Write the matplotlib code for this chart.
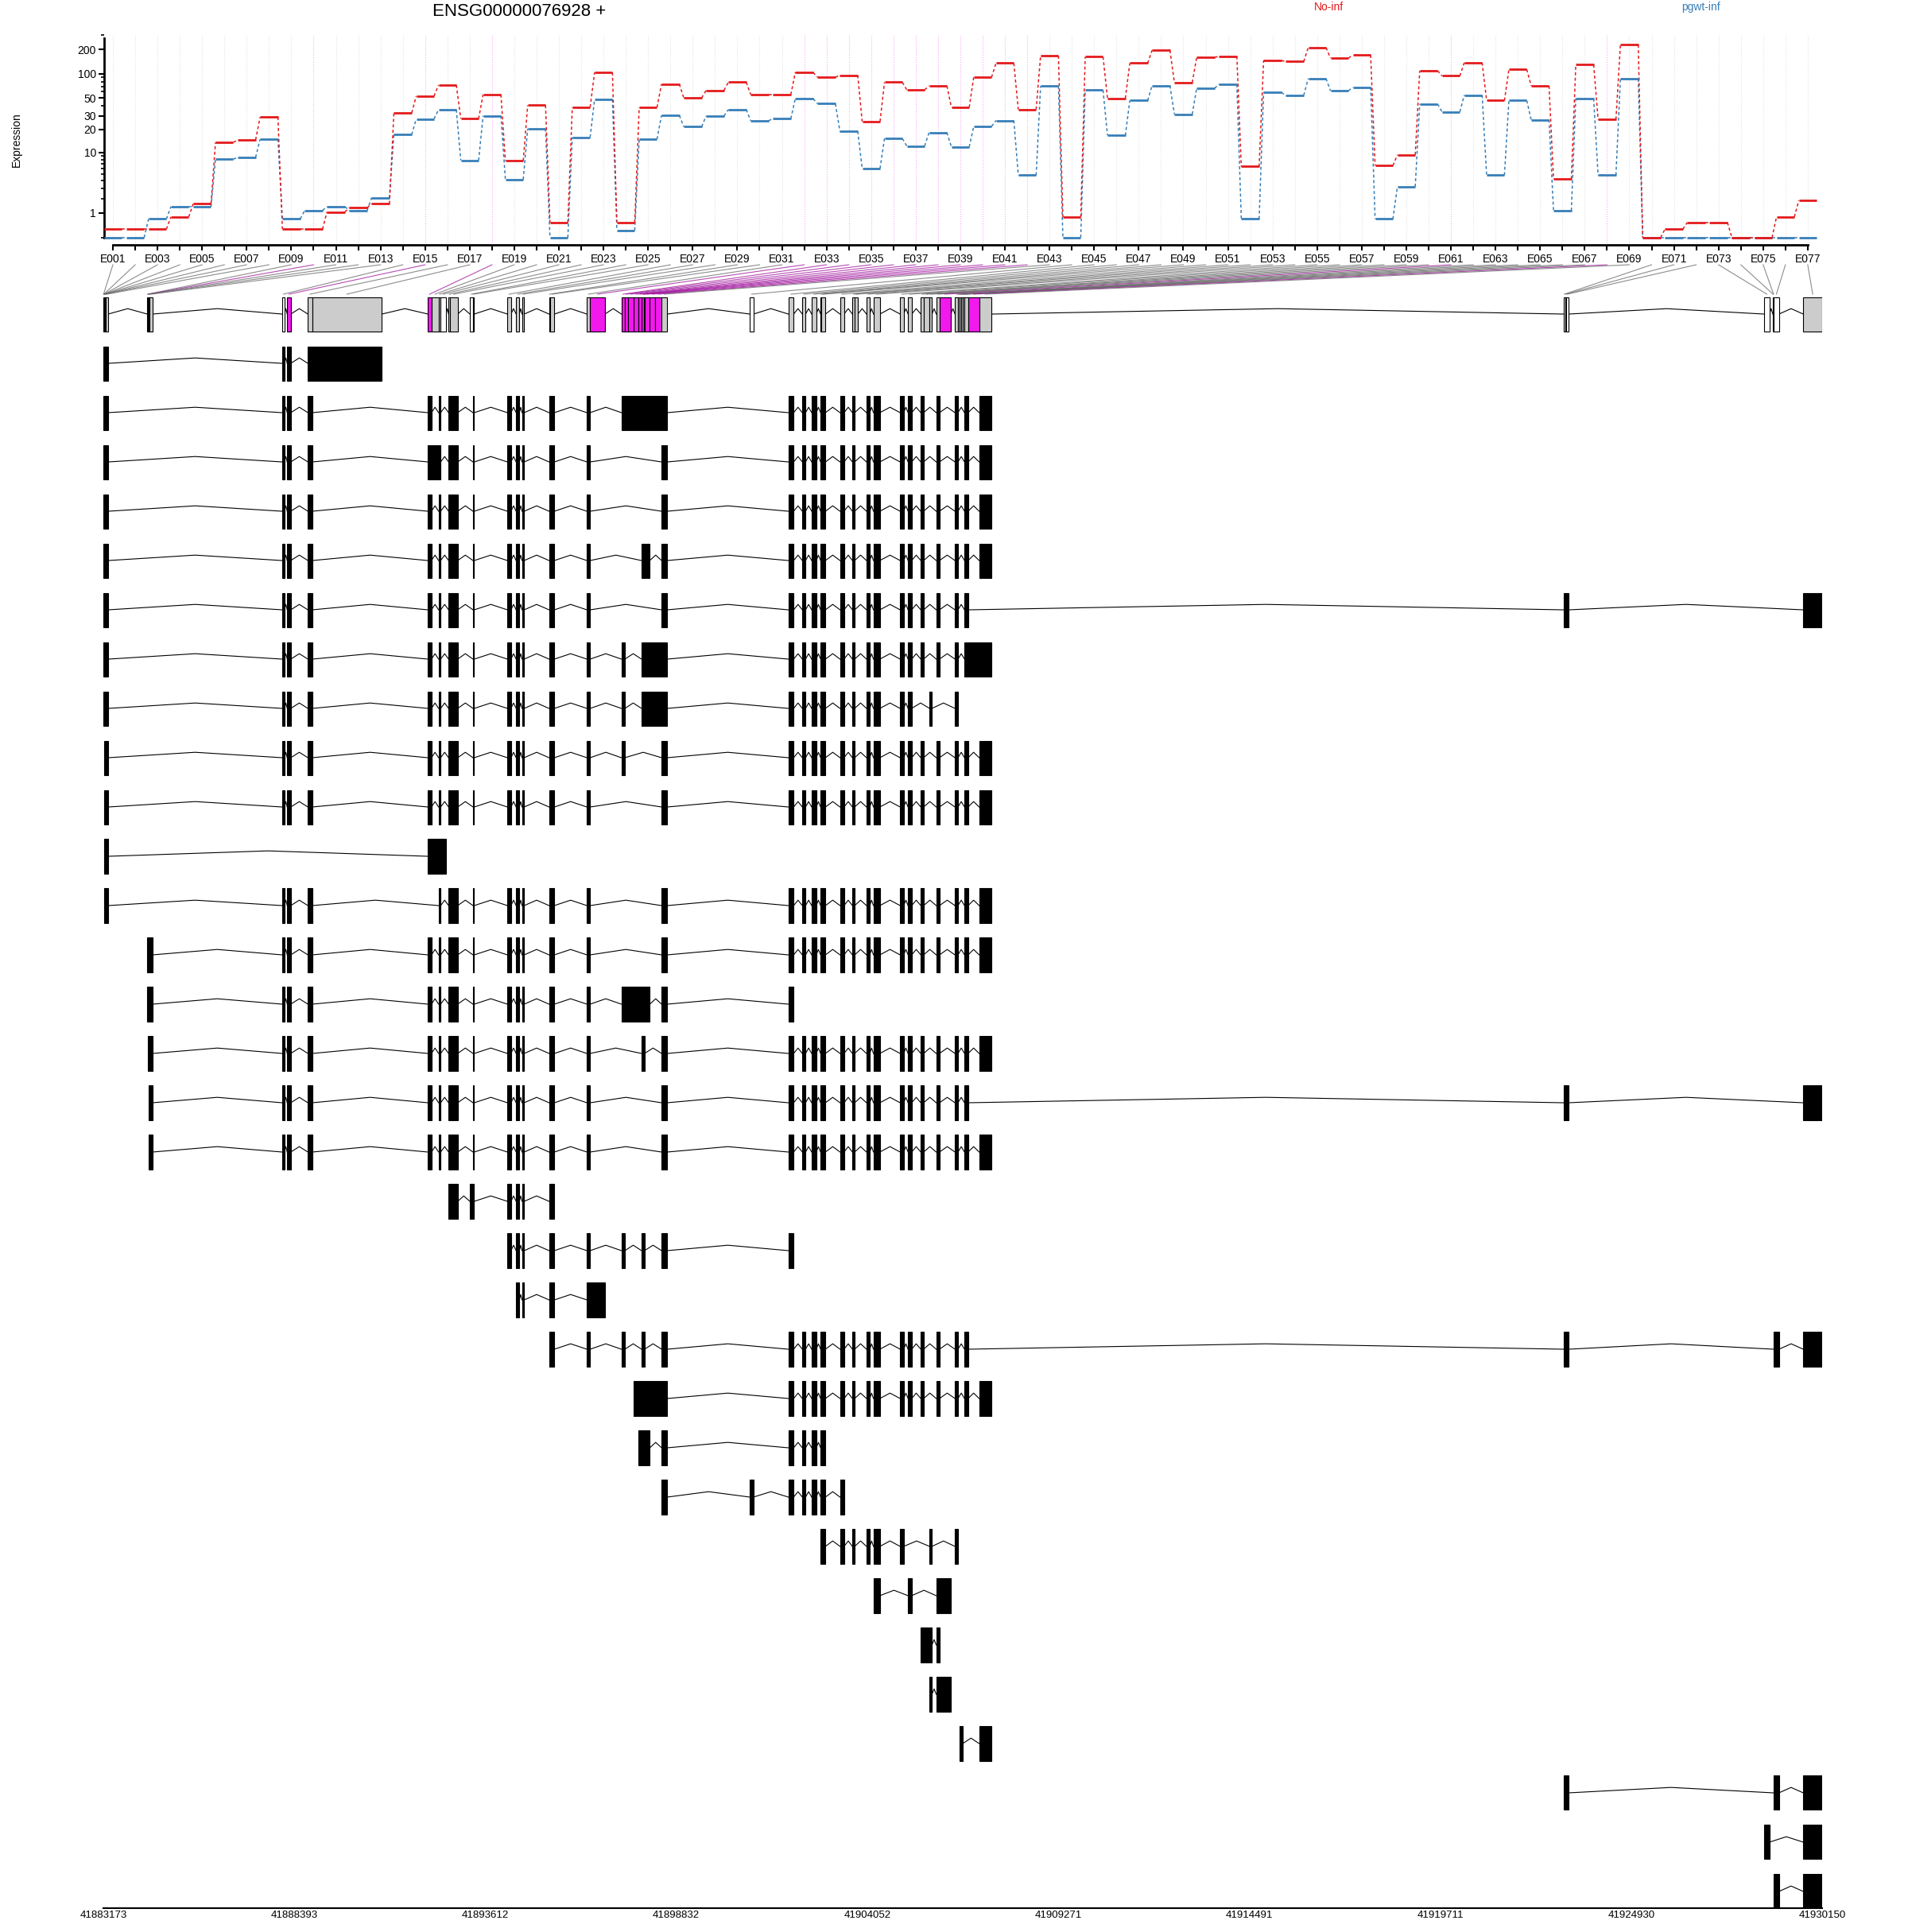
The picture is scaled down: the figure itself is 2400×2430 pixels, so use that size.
import numpy as np
import matplotlib
matplotlib.use('Agg')
import matplotlib.pyplot as plt
from matplotlib.patches import Rectangle
from matplotlib.lines import Line2D

plt.rcParams['font.family'] = ['Liberation Sans', 'DejaVu Sans']

gene_title = 'ENSG00000076928 +'
cond_names = ['No-inf', 'pgwt-inf']
cond_colors = ['#E41A1C', '#377EB8']

exon_ids = ['E%03d' % i for i in range(1, 78)]

# fitted expression per exon bin
no_inf = [0.27, 0.27, 0.27, 0.79, 1.59, 13.6, 14.7, 28.8, 0.27, 0.27,
          1.06, 1.32, 1.59, 32.6, 52.8, 72.3, 27.5, 55.2, 7.7, 40.6,
          0.53, 38.4, 104, 0.53, 38.2, 74.5, 50.1, 62.3, 78.5, 55.2,
          55.2, 104, 90.5, 96, 25.3, 78.5, 63.2, 70.7, 38.2, 90.5,
          135, 35.9, 166.6, 0.78, 161.7, 49.7, 135, 194.7, 77.9, 159.3,
          164.2, 6.4, 145.8, 141.5, 210, 155.8, 170.4, 6.6, 9.3, 109,
          94, 137.3, 46.5, 113.2, 70.7, 4.2, 129.4, 26.9, 227.6, 0.0,
          0.27, 0.53, 0.53, 0.0, 0.0, 0.79, 1.85]
pgwt_inf = [0.0, 0.0, 0.69, 1.39, 1.39, 8.1, 8.6, 15.0, 0.69, 1.15,
            1.39, 1.15, 2.07, 17.2, 27.3, 35.7, 7.8, 29.9, 4.15, 20.5,
            0.0, 15.9, 48.2, 0.23, 15.0, 30.2, 21.7, 29.7, 35.9, 25.9,
            27.5, 49, 42.4, 19, 6.0, 15.3, 12.2, 18.3, 11.85, 21.9,
            26.1, 4.8, 70.7, 0.0, 62.7, 16.8, 46.5, 71.3, 31.3, 66.1,
            74, 0.69, 58.7, 54, 87.2, 61.4, 68.2, 0.69, 3.2, 42.1,
            33.6, 54.4, 4.8, 46.5, 26.7, 1.14, 49.3, 4.8, 86.5, 0.0,
            0.0, 0.0, 0.0, 0.0, 0.0, 0.0, 0.0]

# genomic coordinates of the exon bins
bin_start = [41883173, 41883185, 41883192, 41883199, 41883206, 41883213, 41883220, 41883228,
             41884375, 41884390, 41884405, 41884420, 41884435,
             41888062, 41888199, 41888764, 41888881, 41892045, 41892140, 41892336,
             41892392, 41892610, 41892646, 41893190, 41893277, 41894217, 41894456,
             41894617, 41895356, 41895384, 41896390, 41896477, 41897333,
             41897426, 41897513, 41897672, 41897802, 41897883, 41897948, 41897963,
             41898107, 41898252, 41898432, 41900844, 41901896, 41902278, 41902533,
             41902778, 41902800, 41903308, 41903647, 41903706, 41904032, 41904221,
             41904951, 41905168, 41905516, 41905590, 41905755, 41905937, 41906024,
             41906450, 41906530, 41906574, 41906617, 41906661, 41906711, 41906807,
             41907111, 41923081, 41923130, 41923150, 41928570, 41928802, 41928815,
             41928830, 41929634]
bin_end = [41883185, 41883192, 41883199, 41883206, 41883213, 41883220, 41883228, 41883303,
           41884390, 41884405, 41884420, 41884435, 41884514,
           41888120, 41888294, 41888881, 41890784, 41892140, 41892336, 41892392,
           41892538, 41892646, 41892857, 41893277, 41893309, 41894313, 41894543,
           41894674, 41895384, 41895499, 41896477, 41896883, 41897426,
           41897513, 41897672, 41897802, 41897883, 41897948, 41897963, 41898107,
           41898252, 41898432, 41898584, 41900940, 41902040, 41902365, 41902657,
           41902800, 41902908, 41903417, 41903706, 41903793, 41904119, 41904395,
           41905046, 41905264, 41905590, 41905755, 41905820, 41906024, 41906335,
           41906530, 41906574, 41906617, 41906661, 41906711, 41906807, 41907111,
           41907450, 41923130, 41923150, 41923224, 41928709, 41928815, 41928830,
           41928969, 41930150]

signif_bins = [10, 15, 18, 32, 33, 34, 35, 36, 37, 38, 39, 40, 41, 42, 61, 68]
untested_bins = [1, 2, 14, 21, 24, 44, 70, 71, 72, 73, 74, 75, 76]

# transcripts: exons as bin ranges
transcripts = [
    "1-8 14 15 16-17",
    "1-8 14 15 16 18 20 22-23 25 26 27 28 29-30 31 33-43 45 46 47 48-49 50 51 53 54 55 56 57 60 62 67 69",
    "1-8 14 15 16 18-20 22-23 25 26 27 28 29-30 31 43 45 46 47 48-49 50 51 53 54 55 56 57 60 62 67 69",
    "1-8 14 15 16 18 20 22-23 25 26 27 28 29-30 31 43 45 46 47 48-49 50 51 53 54 55 56 57 60 62 67 69",
    "1-8 14 15 16 18 20 22-23 25 26 27 28 29-30 31 38-40 43 45 46 47 48-49 50 51 53 54 55 56 57 60 62 67 69",
    "1-8 14 15 16 18 20 22-23 25 26 27 28 29-30 31 43 45 46 47 48-49 50 51 53 54 55 56 57 60 62 67 70-72 77",
    "1-8 14 15 16 18 20 22-23 25 26 27 28 29-30 31 33 38-43 45 46 47 48-49 50 51 53 54 55 56 57 60 62 67-69",
    "1-8 14 15 16 18 20 22-23 25 26 27 28 29-30 31 33 38-43 45 46 47 48-49 50 51 53 54 55 56 59 62",
    "2-8 14 15 16 18 20 22-23 25 26 27 28 29-30 31 33 43 45 46 47 48-49 50 51 53 54 55 56 57 60 62 67 69",
    "3-8 14 15 16 18 20 22-23 25 26 27 28 29-30 31 43 45 46 47 48-49 50 51 53 54 55 56 57 60 62 67 69",
    "3-8 18-21",
    "3-8 14 15 16 20 22-23 25 26 27 28 29-30 31 43 45 46 47 48-49 50 51 53 54 55 56 57 60 62 67 69",
    "9-13 14 15 16 18 20 22-23 25 26 27 28 29-30 31 43 45 46 47 48-49 50 51 53 54 55 56 57 60 62 67 69",
    "9-13 14 15 16 18 20 22-23 25 26 27 28 29-30 31 33-40 43 45",
    "10-13 14 15 16 18 20 22-23 25 26 27 28 29-30 31 38-39 43 45 46 47 48-49 50 51 53 54 55 56 57 60 62 67 69",
    "11-13 14 15 16 18 20 22-23 25 26 27 28 29-30 31 43 45 46 47 48-49 50 51 53 54 55 56 57 60 62 67 70-72 77",
    "12-13 14 15 16 18 20 22-23 25 26 27 28 29-30 31 43 45 46 47 48-49 50 51 53 54 55 56 57 60 62 67 69",
    "22-23 24-25 26 27 28 29-30",
    "26 27 28 29-30 31 33 38-39 43 45",
    "27 28 29-30 31-32",
    "29-30 31 33 38-39 43 45 46 47 48-49 50 51 53 54 55 56 57 60 62 67 70-72 75-76 77",
    "36-43 45 46 47 48-49 50 51 53 54 55 56 57 60 62 67 69",
    "37-40 43 45 46 47 48-49",
    "43 44 45 46 47 48-49 50",
    "48-49 50 51 53 54 55 59 62",
    "54 56 60-61",
    "57-59 60",
    "59 60-61",
    "64-65 69",
    "70-72 75-76 77",
    "73 77",
    "75-76 77",
]

axis_ticks = [41883173, 41888393, 41893612, 41898832, 41904052,
              41909271, 41914491, 41919711, 41924930, 41930150]

ytick_vals = [1, 10, 20, 30, 50, 100, 200]
yminor_vals = [0, 2, 3, 4, 5, 6, 7, 8, 9, 40, 60, 70, 80, 90, 300]


def parse_tx(s):
    out = []
    for part in s.split():
        if '-' in part:
            a, b = part.split('-')
            out.append((int(a), int(b)))
        else:
            out.append((int(part), int(part)))
    return out


W, H = 2400, 2430
fig = plt.figure(figsize=(24, 24.3), dpi=100)


def px_axes(x0, y0, x1, y1):
    # axes placed by pixel box (origin top-left)
    return fig.add_axes([x0 / W, 1 - y1 / H, (x1 - x0) / W, (y1 - y0) / H])


def tr(v):
    return np.log10(np.asarray(v, dtype=float) + 1)


n = len(exon_ids)

# ---------------- expression panel ----------------
ax = px_axes(130.8, 44, 2290.7, 308)
ax.set_xlim(0, n)
ax.set_ylim(-0.089, 2.437)
ax.patch.set_alpha(0)

for i in range(n):
    c = '#F219ED' if (i + 1) in signif_bins else '#B3B3B3'
    ax.axvline(i + 0.4, color=c, alpha=0.38, lw=0.8, ls=':', zorder=0)

for vals, col in [(pgwt_inf, cond_colors[1]), (no_inf, cond_colors[0])]:
    y = tr(vals)
    for i in range(n):
        ax.plot([i, i + 0.8], [y[i], y[i]], color=col, lw=2.0,
                solid_capstyle='butt', zorder=3)
        if i < n - 1:
            ax.plot([i + 0.8, i + 1], [y[i], y[i + 1]], color=col, lw=1.1,
                    ls=(0, (2.5, 2)), zorder=2)

for s in ['top', 'right']:
    ax.spines[s].set_visible(False)
ax.spines['left'].set_linewidth(2)
ax.spines['bottom'].set_linewidth(2)
ax.spines['left'].set_bounds(0, 2.437)
ax.spines['bottom'].set_bounds(0.4, n - 0.6)
ax.set_yticks(tr(ytick_vals))
ax.set_yticklabels([str(v) for v in ytick_vals], fontsize=10)
ax.set_yticks(tr(yminor_vals), minor=True)
ax.tick_params(axis='y', which='major', length=5, width=1.5, pad=2)
ax.tick_params(axis='y', which='minor', length=3, width=1.2)
ax.set_xticks(np.arange(n) + 0.4)
ax.set_xticklabels([e if i % 2 == 0 else '' for i, e in enumerate(exon_ids)], fontsize=10)
ax.tick_params(axis='x', length=5, width=1.5, pad=3)
ax.set_ylabel('Expression', fontsize=10, labelpad=0)
ax.yaxis.set_label_coords(-0.0475, 0.5)

fig.text(653 / W, 1 - 15 / H, gene_title, ha='center', va='center', fontsize=16)
fig.text(1672 / W, 1 - 9 / H, cond_names[0], ha='center', va='center',
         fontsize=10, color=cond_colors[0])
fig.text(2140 / W, 1 - 9 / H, cond_names[1], ha='center', va='center',
         fontsize=10, color=cond_colors[1])

# ---------------- gene model panel ----------------
gx = px_axes(130, 360, 2292, 2400)
gx.set_xlim(axis_ticks[0], axis_ticks[-1])
gx.set_ylim(32.339, -0.565)
gx.patch.set_alpha(0)
for s in ['top', 'right', 'left']:
    gx.spines[s].set_visible(False)
gx.spines['bottom'].set_linewidth(1.5)
gx.set_yticks([])
gx.set_xticks(axis_ticks)
gx.set_xticklabels([str(t) for t in axis_ticks], fontsize=9.5)
gx.tick_params(axis='x', length=0, pad=2)

half = 0.347
peak = 0.11


def draw_intron(x0, x1, row):
    xm = (x0 + x1) / 2
    gx.plot([x0, xm, x1], [row, row - peak, row], color='black', lw=0.8, zorder=1)


# collapsed exon model
for i in range(n):
    b = i + 1
    if b in signif_bins:
        fc = '#F219ED'
    elif b in untested_bins:
        fc = 'white'
    else:
        fc = '#CCCCCC'
    gx.add_patch(Rectangle((bin_start[i], -half), bin_end[i] - bin_start[i], 2 * half,
                           facecolor=fc, edgecolor='black', lw=0.8, zorder=2))
    if i < n - 1 and bin_end[i] < bin_start[i + 1]:
        draw_intron(bin_end[i], bin_start[i + 1], 0)

# transcripts
for k, s in enumerate(transcripts):
    row = k + 1
    ex = parse_tx(s)
    for j, (a, b) in enumerate(ex):
        x0 = bin_start[a - 1]
        x1 = bin_end[b - 1]
        gx.add_patch(Rectangle((x0, row - half), x1 - x0, 2 * half,
                               facecolor='black', edgecolor='black', lw=0.8, zorder=2))
        if j < len(ex) - 1:
            draw_intron(x1, bin_start[ex[j + 1][0] - 1], row)

# ---------------- connector lines ----------------
inv = fig.transFigure.inverted()
for i in range(n):
    xa = ax.transData.transform((i + 0.4, 0))[0]
    mid = (bin_start[i] + bin_end[i]) / 2
    xb = gx.transData.transform((mid, 0))[0]
    p0 = inv.transform((xa, H - 333))
    p1 = inv.transform((xb, H - 370))
    c = '#9E109B' if (i + 1) in signif_bins else '#666666'
    fig.add_artist(Line2D([p0[0], p1[0]], [p0[1], p1[1]], color=c, alpha=0.75, lw=0.8))

fig.savefig('out.png', dpi=100)
